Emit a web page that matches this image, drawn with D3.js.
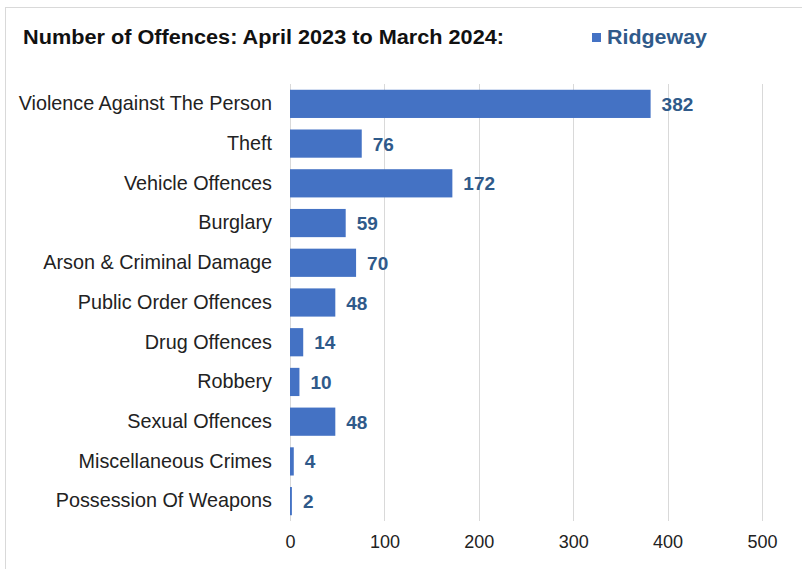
<!DOCTYPE html>
<html><head><meta charset="utf-8">
<script src="https://cdn.jsdelivr.net/npm/d3@7"></script>
<style>body{margin:0;background:#fff}svg{display:block;font-family:"Liberation Sans",Arial,sans-serif}</style>
</head><body>
<svg id="c" width="802" height="569"></svg>
<script>
const categories = ["Violence Against The Person","Theft","Vehicle Offences","Burglary","Arson & Criminal Damage","Public Order Offences","Drug Offences","Robbery","Sexual Offences","Miscellaneous Crimes","Possession Of Weapons"];
const values = [382,76,172,59,70,48,14,10,48,4,2];
const ticks = [0,100,200,300,400,500];
const title = "Number of Offences: April 2023 to March 2024:";
const seriesName = "Ridgeway";

const svg = d3.select("#c");
const barColor = "#4472C4", labelColor = "#2F5A8A";
// frame
svg.append("line").attr("x1",5).attr("x2",802).attr("y1",7.5).attr("y2",7.5).attr("stroke","#d9d9d9");
svg.append("line").attr("x1",5.5).attr("x2",5.5).attr("y1",7).attr("y2",569).attr("stroke","#d9d9d9");

const x = d3.scaleLinear().domain([0,500]).range([290,762]);
const y = d3.scaleBand().domain(categories).range([84,521]).paddingInner(0.29).paddingOuter(0.145);

svg.append("g").selectAll("line").data(ticks).join("line")
  .attr("x1",d=>Math.round(x(d))+0.5).attr("x2",d=>Math.round(x(d))+0.5)
  .attr("y1",84).attr("y2",521).attr("stroke","#d9d9d9");

const xa = svg.append("g").attr("transform","translate(0,521)").call(d3.axisBottom(x).tickValues(ticks).tickSize(0).tickPadding(14));
xa.select(".domain").remove();
xa.selectAll("text").attr("font-size",18).attr("fill","#222").attr("font-family","Liberation Sans, Arial, sans-serif");

const ya = svg.append("g").attr("transform","translate(290,0)").call(d3.axisLeft(y).tickSize(0).tickPadding(18));
ya.select(".domain").remove();
ya.selectAll("text").attr("font-size",19.8).attr("fill","#222").attr("font-family","Liberation Sans, Arial, sans-serif");

svg.append("g").selectAll("rect").data(values).join("rect")
  .attr("x",x(0)).attr("y",(d,i)=>y(categories[i])).attr("width",d=>x(d)-x(0)).attr("height",y.bandwidth())
  .attr("fill",barColor);

svg.append("g").selectAll("text").data(values).join("text")
  .attr("x",d=>x(d)+11).attr("y",(d,i)=>y(categories[i])+y.bandwidth()/2).attr("dy","0.37em")
  .attr("font-size",19).attr("font-weight","bold").attr("fill",labelColor).text(d=>d);

svg.append("text").attr("x",23).attr("y",44).attr("font-size",19.5).attr("font-weight","bold").attr("fill","#111")
  .attr("textLength",481).attr("lengthAdjust","spacingAndGlyphs").text(title);
svg.append("rect").attr("x",592).attr("y",33).attr("width",9).attr("height",9).attr("fill",barColor);
svg.append("text").attr("x",607).attr("y",44).attr("font-size",19.5).attr("font-weight","bold").attr("fill",labelColor)
  .attr("textLength",100).attr("lengthAdjust","spacingAndGlyphs").text(seriesName);
</script>
</body></html>
